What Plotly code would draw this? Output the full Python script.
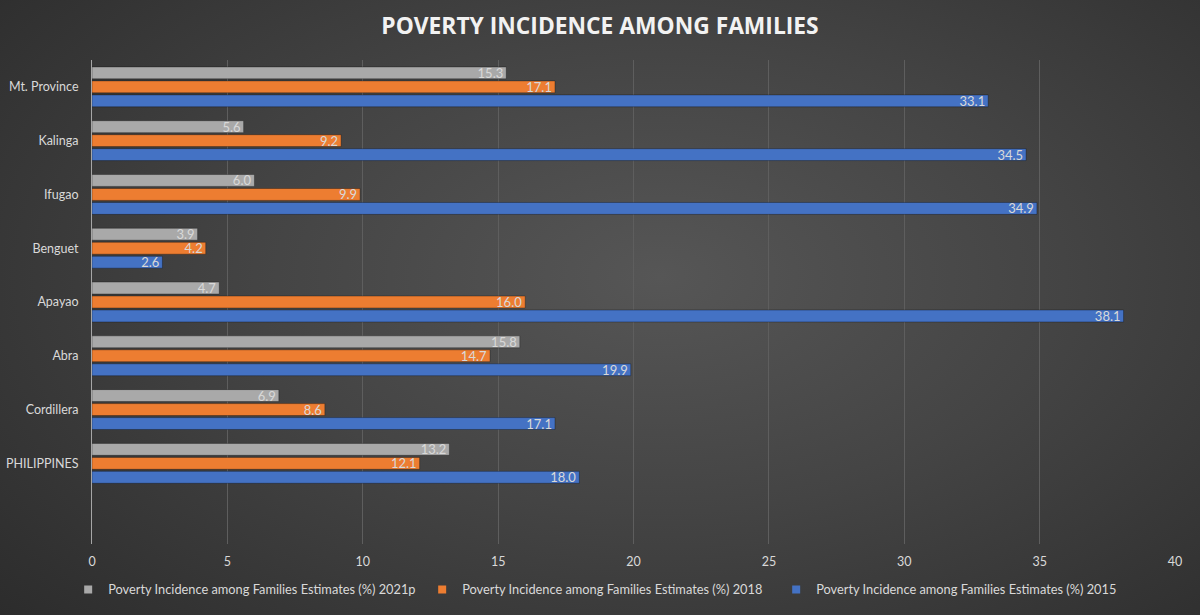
import plotly.graph_objects as go

categories = ["", "PHILIPPINES", "Cordillera", "Abra", "Apayao", "Benguet", "Ifugao", "Kalinga", "Mt. Province"]
cats = categories[1:]
v2021p = [13.2, 6.9, 15.8, 4.7, 3.9, 6.0, 5.6, 15.3]
v2018 = [12.1, 8.6, 14.7, 16.0, 4.2, 9.9, 9.2, 17.1]
v2015 = [18.0, 17.1, 19.9, 38.1, 2.6, 34.9, 34.5, 33.1]
names = ["Poverty Incidence among Families Estimates (%) 2015",
         "Poverty Incidence among Families Estimates (%) 2018",
         "Poverty Incidence among Families Estimates (%) 2021p"]
colors = ["#4472c4", "#ed7d31", "#a9a9a9"]
x_ticks = [0, 5, 10, 15, 20, 25, 30, 35, 40]

FONT = "Lato"
fig = go.Figure()
for vals, name, col in zip([v2015, v2018, v2021p], names, colors):
    fig.add_trace(go.Bar(
        y=cats, x=vals, name=name, orientation="h", showlegend=False,
        marker=dict(color=col, line=dict(color="rgba(0,0,0,0.3)", width=1)),
        text=[f"{v:.1f}" for v in vals], textposition="inside",
        insidetextanchor="end", textangle=0,
        textfont=dict(color="#d9d9d9", size=13, family=FONT),
        constraintext="none", cliponaxis=False,
    ))
# legend entries (small square swatches)
for name, col in zip(names, colors):
    fig.add_trace(go.Scatter(
        x=[None], y=[None], mode="markers", name=name,
        marker=dict(symbol="square", size=8, color=col),
    ))

fig.update_layout(
    width=1200, height=615,
    paper_bgcolor="rgba(0,0,0,0)", plot_bgcolor="rgba(0,0,0,0)",
    margin=dict(l=92, r=25, t=60, b=70),
    barmode="group", bargap=0.22, bargroupgap=0.15,
    title=dict(text="<b>POVERTY INCIDENCE AMONG FAMILIES</b>", x=0.5, xanchor="center",
               y=0.957, yanchor="middle", font=dict(family="Open Sans", size=22.8, color="#f2f2f2")),
    font=dict(family=FONT, color="#d9d9d9", size=12),
    legend=dict(orientation="h", x=-0.022, xanchor="left", y=-0.092, yanchor="middle",
                traceorder="reversed", font=dict(size=12.8, color="#d9d9d9", family="Lato"),
                itemsizing="trace", itemwidth=30, entrywidthmode="pixels", entrywidth=309,
                bgcolor="rgba(0,0,0,0)"),
    xaxis=dict(range=[0, 40], tickvals=x_ticks, showgrid=True, gridcolor="#5e5e5e", gridwidth=1,
               zeroline=False, showline=False, ticks="", tickfont=dict(size=12.5, color="#d9d9d9"),
               ticklabelstandoff=8),
    yaxis=dict(type="category", categoryorder="array", categoryarray=categories,
               range=[-0.5, 8.5], showgrid=False, showline=True, linecolor="#a6a6a6", linewidth=1,
               ticks="", tickfont=dict(size=12.5, color="#d9d9d9"), ticklabelstandoff=10,
               zeroline=False, automargin=False),
)
post = """
document.body.style.margin='0';
document.body.style.overflow='hidden';
document.body.style.background='radial-gradient(ellipse 75% 85% at 55% 45%, #565656 0%, #444444 45%, #2b2b2b 100%)';
document.body.style.height='615px';
"""
fig.write_html("out.html", post_script=post, config={"displayModeBar": False})
